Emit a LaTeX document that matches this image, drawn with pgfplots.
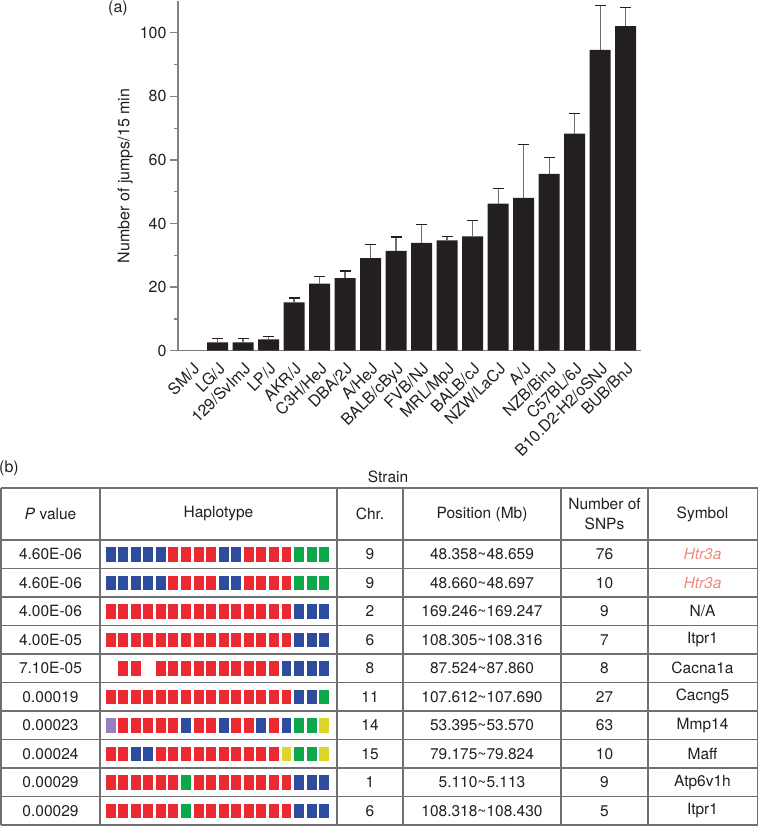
\documentclass[border=0pt]{standalone}
\usepackage{pgfplots}
\pgfplotsset{compat=1.18}
\usepackage{pgfplotstable}
\usepackage{fontspec}
\setmainfont{TeX Gyre Heros}
\definecolor{barc}{HTML}{231F20}
\definecolor{txt}{HTML}{231F20}
\definecolor{axgray}{HTML}{808285}
\definecolor{ebgray}{HTML}{6D6E71}
\definecolor{linec}{HTML}{707070}
\definecolor{hB}{HTML}{2E4C9E}
\definecolor{hR}{HTML}{EC2830}
\definecolor{hG}{HTML}{0BA84C}
\definecolor{hY}{HTML}{DCD62A}
\definecolor{hP}{HTML}{9A7DBE}
\definecolor{salmon}{HTML}{EE8A7C}
\newcommand\lf{\fontsize{16}{19}\selectfont}
\newcommand\tf{\fontsize{15.5}{19}\selectfont}
\newcommand\tfb{\fontsize{15.5}{20}\selectfont}

\pgfplotstableread{
x y e
1 2.6 1.3
2 2.6 1.3
3 3.6 0.8
4 15.2 1.4
5 21.1 2.2
6 22.8 2.3
7 29.1 4.4
8 31.4 4.4
9 33.9 5.7
10 34.7 1.3
11 36.0 5.0
12 46.3 4.8
13 48.1 16.8
14 55.6 5.2
15 68.3 6.4
16 94.6 13.9
17 102.1 5.8
}\jumps

\pgfplotsset{hap/.style={only marks, mark=square*, mark size=6.8pt,
  mark options={xscale=0.66, line width=0.3pt, color=#1, fill=#1}}}

\begin{document}
\begin{tikzpicture}[x=1pt,y=1pt]
\useasboundingbox (0,0) rectangle (759,-826);
\begin{axis}[
  at={(178pt,-350.7pt)}, anchor=south west,
  scale only axis, width=463pt, height=349.7pt,
  xmin=-0.55, xmax=17.6, ymin=0, ymax=110,
  axis lines*=left,
  axis line style={draw=axgray, line width=1.3pt},
  xtick={0,...,17},
  xticklabels={SM/J,LG/J,129/SvImJ,LP/J,AKR/J,C3H/HeJ,DBA/2J,A/HeJ,BALB/cByJ,FVB/NJ,MRL/MpJ,BALB/cJ,NZW/LaCJ,A/J,NZB/BinJ,C57BL/6J,B10.D2-H2/oSNJ,BUB/BnJ},
  xtick style={draw=none},
  xticklabel style={rotate=45, anchor=north east, font=\lf, text=txt, inner sep=2pt},
  ytick={0,20,...,100},
  minor ytick={10,30,...,90},
  ytick style={draw=axgray, line width=1.3pt},
  minor tick style={draw=axgray, line width=1.3pt},
  tick align=outside,
  major tick length=8pt, minor tick length=4pt,
  yticklabel style={font=\lf, text=txt},
  /pgf/number format/assume math mode=true,
  ylabel={Number of jumps/15 min},
  ylabel style={font=\lf, text=txt},
  clip=false,
]
\addplot[ybar, bar width=21pt, fill=barc, draw=none] coordinates {(0,0)};
\addplot[ybar, bar width=21pt, fill=barc, draw=none,
  error bars/.cd, y dir=plus, y explicit,
  error bar style={draw=ebgray, line width=1.3pt},
  error mark options={rotate=90, draw=barc, line width=1.3pt, mark size=5.5pt}]
  table[x=x, y=y, y error=e]{\jumps};
\end{axis}
\node[font=\lf, text=txt] at (118,-8) {(a)};

% ---- table (b)
\node[font=\lf, text=txt] at (9,-468) {(b)};
\node[font=\tf, text=txt] at (388,-477) {Strain};
\foreach \yy in {488,540,568.5,597,625.5,654,682.5,711,739.5,768,796.5,825}
  \draw[linec, line width=1.2pt] (1,-\yy) -- (757.5,-\yy);
\foreach \xx in {1,100,337,403,561,648,757.5}
  \draw[linec, line width=1.2pt] (\xx,-488) -- (\xx,-825);

\begin{axis}[
  at={(104pt,-540pt)}, anchor=north west,
  scale only axis, width=226.1pt, height=285pt,
  xmin=-0.5, xmax=17.5, ymin=-0.5, ymax=9.5, y dir=reverse,
  hide axis, clip=false,
]
\addplot[hap=hB] coordinates {
(0,0)(1,0)(2,0)(3,0)(4,0)(9,0)(10,0)
(0,1)(1,1)(2,1)(3,1)(4,1)(9,1)(10,1)
(15,2)(16,2)(17,2)
(15,3)(16,3)(17,3)
(14,4)(15,4)(16,4)(17,4)
(15,5)(16,5)
(6,6)(9,6)(12,6)(14,6)
(2,7)(3,7)
(15,8)(16,8)(17,8)
(15,9)(16,9)(17,9)
};
\addplot[hap=hR] coordinates {
(5,0)(6,0)(7,0)(8,0)(11,0)(12,0)(13,0)(14,0)
(5,1)(6,1)(7,1)(8,1)(11,1)(12,1)(13,1)(14,1)
(0,2)(1,2)(2,2)(3,2)(4,2)(5,2)(6,2)(7,2)(8,2)(9,2)(10,2)(11,2)(12,2)(13,2)(14,2)
(0,3)(1,3)(2,3)(3,3)(4,3)(5,3)(6,3)(7,3)(8,3)(9,3)(10,3)(11,3)(12,3)(13,3)(14,3)
(1,4)(2,4)(4,4)(5,4)(6,4)(7,4)(8,4)(9,4)(10,4)(11,4)(12,4)(13,4)
(0,5)(1,5)(2,5)(3,5)(4,5)(5,5)(6,5)(7,5)(8,5)(9,5)(10,5)(11,5)(12,5)(13,5)(14,5)
(1,6)(2,6)(3,6)(4,6)(5,6)(7,6)(8,6)(10,6)(11,6)(13,6)
(0,7)(1,7)(4,7)(5,7)(6,7)(7,7)(8,7)(9,7)(10,7)(11,7)(12,7)(13,7)
(0,8)(1,8)(2,8)(3,8)(4,8)(5,8)(7,8)(8,8)(9,8)(10,8)(11,8)(12,8)(13,8)(14,8)
(0,9)(1,9)(2,9)(3,9)(4,9)(5,9)(7,9)(8,9)(9,9)(10,9)(11,9)(12,9)(13,9)(14,9)
};
\addplot[hap=hG] coordinates {
(15,0)(16,0)(17,0)(15,1)(16,1)(17,1)(17,5)(15,6)(16,6)(15,7)(16,7)(6,8)(6,9)
};
\addplot[hap=hY] coordinates {
(17,6)(14,7)(17,7)
};
\addplot[hap=hP] coordinates {
(0,6)
};
\end{axis}

\begin{scope}[every node/.style={font=\tf, text=txt}]
\node at (50.5,-514) {\textit{P} value};
\node at (218.5,-514) {Haplotype};
\node at (370,-514) {Chr.};
\node at (482,-514) {Position (Mb)};
\node[align=center, font=\tfb] at (604.5,-514) {Number of\\SNPs};
\node at (702.5,-514) {Symbol};
\foreach \p [count=\i from 0] in {4.60E-06,4.60E-06,4.00E-06,4.00E-05,7.10E-05,0.00019,0.00023,0.00024,0.00029,0.00029}
  \node at (50.5,{-554.25-28.5*\i}) {\p};
\foreach \p [count=\i from 0] in {9,9,2,6,8,11,14,15,1,6}
  \node at (370,{-554.25-28.5*\i}) {\p};
\foreach \a/\b [count=\i from 0] in {48.358/48.659,48.660/48.697,169.246/169.247,108.305/108.316,87.524/87.860,107.612/107.690,53.395/53.570,79.175/79.824,5.110/5.113,108.318/108.430}
  \node at (482,{-554.25-28.5*\i}) {\a\textasciitilde\b};
\foreach \p [count=\i from 0] in {76,10,9,7,8,27,63,10,9,5}
  \node at (604.5,{-554.25-28.5*\i}) {\p};
\node[text=salmon] at (702.5,-554.25) {\textit{Htr3a}};
\node[text=salmon] at (702.5,-582.75) {\textit{Htr3a}};
\node at (702.5,-611.25) {N/A};
\node at (702.5,-639.75) {Itpr1};
\node at (702.5,-668.25) {Cacna1a};
\node at (702.5,-696.75) {Cacng5};
\node at (702.5,-725.25) {Mmp14};
\node at (702.5,-753.75) {Maff};
\node at (702.5,-782.25) {Atp6v1h};
\node at (702.5,-810.75) {Itpr1};
\end{scope}
\end{tikzpicture}
\end{document}
